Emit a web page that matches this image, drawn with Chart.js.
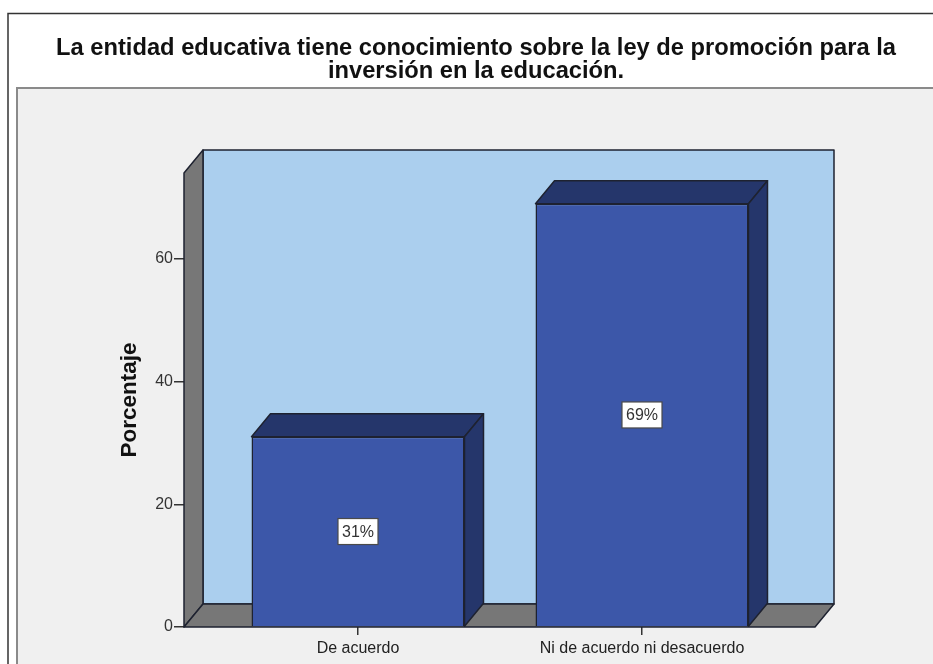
<!DOCTYPE html>
<html lang="es">
<head>
<meta charset="utf-8">
<title>Porcentaje</title>
<script src="https://cdn.jsdelivr.net/npm/chart.js@4.4.1/dist/chart.umd.min.js"></script>
<style>
  html, body { margin: 0; padding: 0; background: #fff; }
  #wrap { width: 933px; height: 664px; }
</style>
</head>
<body>
<div id="wrap"><canvas id="grafico" width="933" height="664"></canvas></div>
<script>
/* Datos del gráfico */
const categorias = ['De acuerdo', 'Ni de acuerdo ni desacuerdo'];
const porcentajes = [31, 69];
const ticksY = [0, 20, 40, 60];
const titulo = ['La entidad educativa tiene conocimiento sobre la ley de promoción para la',
  'inversión en la educación.'];
const tituloEjeY = 'Porcentaje';

(function () {
  'use strict';
  const FONT = "'Liberation Sans', Arial, Helvetica, sans-serif";
  const COL = {
    pared: '#abcfee', lateral: '#777777', borde: '#1e2230',
    barra: '#3c57a9', barraOsc: '#25366b', panel: '#f0f0f0', texto: '#111',
  };
  const DX = 19, DY = 23; // profundidad del efecto 3D (px)

  function poly(ctx, pts, fill, stroke) {
    ctx.beginPath();
    pts.forEach(([x, y], i) => (i ? ctx.lineTo(x, y) : ctx.moveTo(x, y)));
    ctx.closePath();
    ctx.fillStyle = fill; ctx.fill();
    ctx.strokeStyle = stroke; ctx.lineWidth = 1.5; ctx.lineJoin = 'round'; ctx.stroke();
  }

  /* Marco exterior + panel gris del gráfico */
  const marco = {
    id: 'marco',
    beforeDraw(chart) {
      const { ctx, width, height } = chart;
      ctx.save();
      ctx.fillStyle = '#fff'; ctx.fillRect(0, 0, width, height);
      ctx.fillStyle = COL.panel; ctx.fillRect(17, 88, width, height);
      ctx.strokeStyle = '#8a8a8a'; ctx.lineWidth = 2;
      ctx.strokeRect(17, 88, width + 10, height + 10);
      ctx.strokeStyle = '#333'; ctx.lineWidth = 1.5;
      ctx.beginPath(); ctx.moveTo(8, height); ctx.lineTo(8, 13.5); ctx.lineTo(width, 13.5); ctx.stroke();
      ctx.restore();
    },
  };

  /* Paredes, suelo y caras ocultas de las barras */
  const caja3d = {
    id: 'caja3d',
    beforeDatasetsDraw(chart) {
      const { ctx, chartArea: a } = chart;
      const L = a.left, R = a.right, T = a.top, B = a.bottom;
      ctx.save();
      poly(ctx, [[L + DX, T - DY], [R + DX, T - DY], [R + DX, B - DY], [L + DX, B - DY]], COL.pared, COL.borde);
      poly(ctx, [[L, T], [L + DX, T - DY], [L + DX, B - DY], [L, B]], COL.lateral, COL.borde);
      poly(ctx, [[L, B], [L + DX, B - DY], [R + DX, B - DY], [R, B]], COL.lateral, COL.borde);
      chart.getDatasetMeta(0).data.forEach(bar => {
        const { x, y, base, width } = bar.getProps(['x', 'y', 'base', 'width'], true);
        const x0 = x - width / 2, x1 = x + width / 2;
        poly(ctx, [[x0, y], [x0 + DX, y - DY], [x1 + DX, y - DY], [x1, y]], COL.barraOsc, COL.borde);
        poly(ctx, [[x1, y], [x1 + DX, y - DY], [x1 + DX, base - DY], [x1, base]], COL.barraOsc, COL.borde);
      });
      ctx.restore();
    },
    afterDatasetsDraw(chart) {
      const { ctx } = chart;
      const ds = chart.data.datasets[0];
      ctx.save();
      ctx.font = '16px ' + FONT;
      ctx.textAlign = 'center'; ctx.textBaseline = 'middle';
      chart.getDatasetMeta(0).data.forEach((bar, i) => {
        const { x, y, base } = bar.getProps(['x', 'y', 'base'], true);
        const txt = Math.round(ds.data[i].y) + '%';
        const w = ctx.measureText(txt).width + 8, h = 26;
        const cy = (y + base) / 2;
        ctx.fillStyle = '#fff'; ctx.fillRect(x - w / 2, cy - h / 2, w, h);
        ctx.strokeStyle = '#4a4a4a'; ctx.lineWidth = 1.2; ctx.strokeRect(x - w / 2, cy - h / 2, w, h);
        ctx.fillStyle = '#333'; ctx.fillText(txt, x, cy + 1);
      });
      ctx.restore();
    },
  };

  new Chart(document.getElementById('grafico'), {
    type: 'bar',
    data: {
      datasets: [{
        data: porcentajes.map((v, i) => ({ x: i, y: v })),
        backgroundColor: COL.barra, borderColor: COL.borde, borderWidth: 1.5,
        barPercentage: 0.75, categoryPercentage: 1, clip: false,
      }],
    },
    options: {
      responsive: false, animation: false, events: [],
      layout: { padding: { left: 19, right: 0, top: 0, bottom: 0 } },
      plugins: {
        legend: { display: false }, tooltip: { enabled: false },
        title: {
          display: true, text: titulo, color: COL.texto,
          font: { family: FONT, size: 23.7, weight: 'bold', lineHeight: 23 / 23.7 },
          padding: { top: 37, bottom: 90 },
        },
      },
      scales: {
        x: {
          type: 'linear', min: -0.6127, max: 1.6092, offset: false,
          afterBuildTicks: s => { s.ticks = categorias.map((_, i) => ({ value: i })); },
          afterFit: s => { s.height = 37; },
          grid: { offset: false, drawOnChartArea: false, tickLength: 8, color: '#333', lineWidth: 1.5 },
          border: { display: false },
          ticks: { padding: 4, color: '#222', autoSkip: false, maxRotation: 0,
            font: { family: FONT, size: 16 }, callback: v => categorias[v] ?? '' },
        },
        y: {
          min: 0, max: 74,
          afterBuildTicks: s => { s.ticks = ticksY.map(v => ({ value: v })); },
          afterFit: s => { s.width = 165; },
          grid: { drawOnChartArea: false, tickLength: 10, color: '#333', lineWidth: 1.5 },
          border: { display: false },
          ticks: { padding: 1, color: '#333', font: { family: FONT, size: 16 } },
          title: {
            display: true, text: tituloEjeY, color: COL.texto,
            font: { family: FONT, size: 22.5, weight: 'bold' }, padding: { top: 97.5, bottom: 0 },
          },
        },
        // margen derecho vacío (la pared del fondo sobresale aquí)
        margen: {
          position: 'right', display: true,
          afterFit: s => { s.width = 118; },
          grid: { display: false }, border: { display: false }, ticks: { display: false },
        },
      },
    },
    plugins: [marco, caja3d],
  });
})();
</script>
</body>
</html>
